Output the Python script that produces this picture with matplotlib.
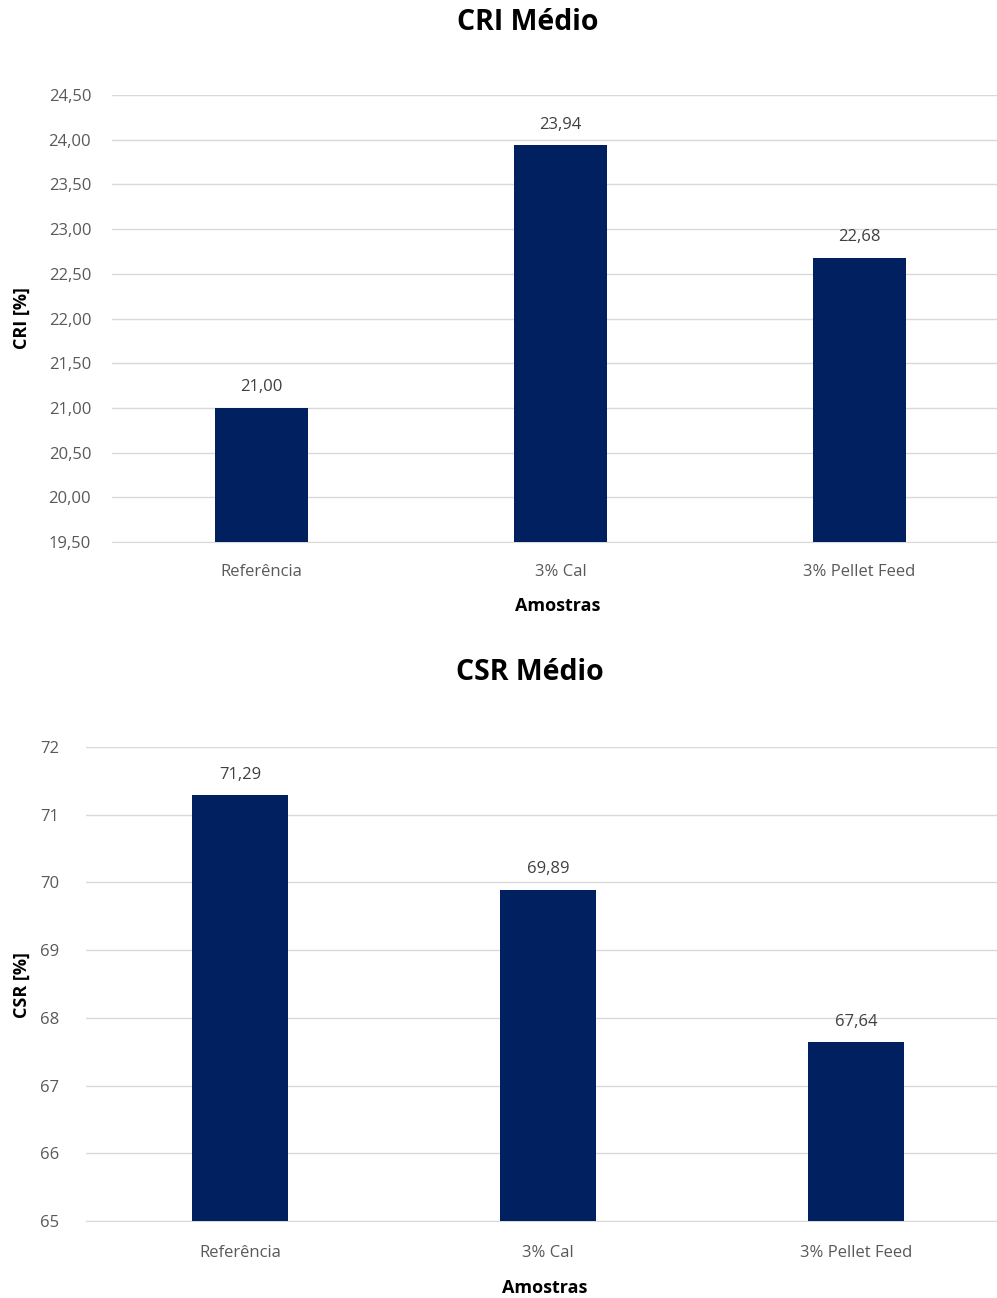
import matplotlib
matplotlib.use("Agg")
import matplotlib.pyplot as plt
from matplotlib.ticker import FuncFormatter, MultipleLocator

plt.rcParams['font.family'] = ['Open Sans', 'DejaVu Sans']

categories = ["Referência", "3% Cal", "3% Pellet Feed"]
cri_values = [21.00, 23.94, 22.68]
csr_values = [71.29, 69.89, 67.64]
cri_title = "CRI Médio"
csr_title = "CSR Médio"
cri_ylabel = "CRI [%]"
csr_ylabel = "CSR [%]"
xlabel = "Amostras"

W, H = 997, 1298
fig = plt.figure(figsize=(W / 100, H / 100), dpi=100)

BAR = "#002060"
GRID = "#d9d9d9"
TICK = "#595959"
LAB = "#404040"
FS = 12


def px_axes(left, right, top, bottom):
    return [left / W, 1 - bottom / H, (right - left) / W, (bottom - top) / H]


def style(ax, vals, ylim, step, fmt, lab_fmt, label_off):
    x = range(len(categories))
    ax.bar(x, vals, width=0.313, color=BAR, zorder=3)
    ax.set_ylim(*ylim)
    ax.set_xlim(-0.5, 2.48)
    ax.yaxis.set_major_locator(MultipleLocator(step))
    ax.yaxis.set_major_formatter(FuncFormatter(fmt))
    ax.set_xticks(list(x))
    ax.set_xticklabels(categories)
    ax.grid(axis='y', color=GRID, linewidth=1, zorder=0)
    for s in ['top', 'right', 'left']:
        ax.spines[s].set_visible(False)
    ax.spines['bottom'].set_color(GRID)
    ax.tick_params(axis='both', length=0, colors=TICK, labelsize=FS)
    for i, v in enumerate(vals):
        ax.annotate(lab_fmt(v), (i, v), xytext=(0, label_off), textcoords='offset points',
                    ha='center', va='bottom', color=LAB, fontsize=FS)


ax1 = fig.add_axes(px_axes(112, 1003, 95, 542))
style(ax1, cri_values, (19.5, 24.5), 0.5,
      lambda v, p: f"{v:.2f}".replace('.', ','),
      lambda v: f"{v:.2f}".replace('.', ','), 9)
ax1.tick_params(axis='y', pad=15)
ax1.tick_params(axis='x', pad=16)
ax1.set_xlabel(xlabel, fontweight='bold', fontsize=13, color='black', labelpad=12)
fig.text(22 / W, 1 - 318 / H, cri_ylabel, rotation=90, ha='center', va='center',
         fontweight='bold', fontsize=13)

ax2 = fig.add_axes(px_axes(86, 1004, 747, 1221))
style(ax2, csr_values, (65, 72), 1,
      lambda v, p: f"{v:.0f}",
      lambda v: f"{v:.2f}".replace('.', ','), 9)
ax2.tick_params(axis='y', pad=19)
ax2.tick_params(axis='x', pad=17)
ax2.set_xlabel(xlabel, fontweight='bold', fontsize=13, color='black', labelpad=13)
fig.text(22 / W, 1 - 985 / H, csr_ylabel, rotation=90, ha='center', va='center',
         fontweight='bold', fontsize=13)

fig.text(528 / W, 1 - 22 / H, cri_title, ha='center', va='center', fontweight='bold', fontsize=20.5)
fig.text(530 / W, 1 - 672 / H, csr_title, ha='center', va='center', fontweight='bold', fontsize=20.5)

fig.savefig("out.png", dpi=100, facecolor='white')
